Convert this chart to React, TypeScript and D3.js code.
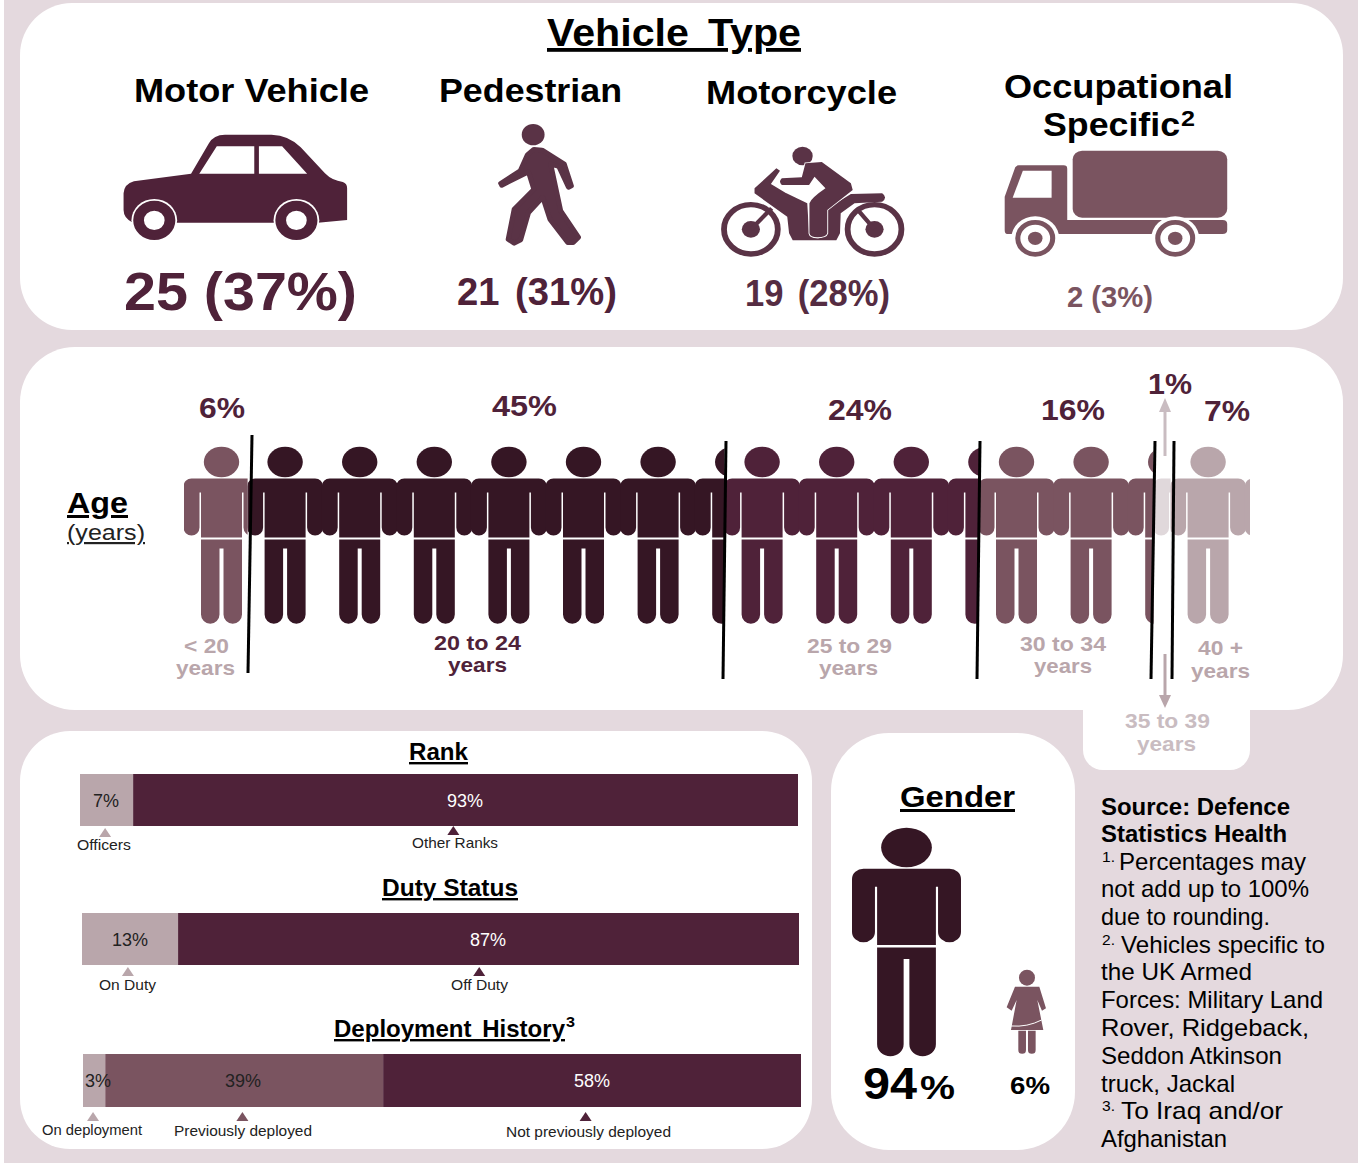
import React from 'react';
import * as d3 from 'd3';

const width = 1358;
const height = 1163;

const bg = '#e4d9de';
const dark = '#351624';
const plum = '#4f2239';
const mid = '#7a5460';
const light = '#b9a6ab';
const pale = '#e0d8db';
const font = '"Liberation Sans", Arial, sans-serif';

// data
const vehicleTypes = ['Motor Vehicle', 'Pedestrian', 'Motorcycle', 'Occupational Specific'];
const vehicleCounts = [25, 21, 19, 2];
const vehiclePcts = [37, 31, 28, 3];

const ageGroups = ['< 20', '20 to 24', '25 to 29', '30 to 34', '35 to 39', '40 +'];
const agePcts = [6, 45, 24, 16, 1, 7];

// bar lengths, labels show them rounded
const rankLabels = ['Officers', 'Other Ranks'];
const rankValues = [7.4, 92.6];
const rankMarkers = [3.5, 52];

const dutyLabels = ['On Duty', 'Off Duty'];
const dutyValues = [13.4, 86.6];
const dutyMarkers = [6.4, 55.4];

const deployLabels = ['On deployment', 'Previously deployed', 'Not previously deployed'];
const deployValues = [3.1, 38.7, 58.2];
const deployMarkers = [1.4, 22.2, 70];

const genderValues = [94, 6];

const ageX = d3.scaleLinear().domain([0, 100]).range([184, 1244]);
const ageRight = 1250;
const ageColors = [mid, dark, plum, mid, pale, light];
const headOffset = 37.5;
const personStep = 74.6;

// cumulative age bands. The 1% band is too thin to read at its true width, so it gets a fixed one
const ageBands = (() => {
  let cum = 0;
  let x0 = ageX(0);
  return agePcts.map((p, i) => {
    cum += p;
    const start = x0;
    let end = ageX(cum);
    if (i === 3) end += 5;
    if (i === 4) end = start + 17;
    if (i === 5) end = ageRight;
    x0 = end;
    return { i, start, end, pct: p, color: ageColors[i] };
  });
})();

const T = ({ x, y, w, size, bold, fill = '#000', underline, ws, children }: any) => (
  <text
    x={x}
    y={y}
    fontSize={size}
    fontFamily={font}
    fontWeight={bold ? 700 : 400}
    fill={fill}
    textLength={w}
    lengthAdjust="spacingAndGlyphs"
    wordSpacing={ws}
    textDecoration={underline ? 'underline' : undefined}
  >
    {children}
  </text>
);

const upperBody =
  'M-38 8A8 8 0 0 1 -30 0H30A8 8 0 0 1 38 8V49A8 8 0 0 1 22 49V14H20.5V59H-20.5V14H-22V49A8 8 0 0 1 -38 49Z';
const legs = 'M-20.5 61H20.5V136A9 9 0 0 1 2 136V70H-2V136A9 9 0 0 1 -20.5 136Z';

const Person = ({ color }: any) => (
  <g fill={color}>
    <ellipse cx={0} cy={-16.5} rx={17.7} ry={15.3} />
    <path d={upperBody} />
    <path d={legs} />
  </g>
);

const Car = () => (
  <g transform="translate(100,60) scale(0.3571,0.3333)" fill={plum}>
    <path d="M66 400Q68 372 95 364L255 341L305 250Q318 224 350 224H480Q530 226 562 262L630 340Q650 362 680 366Q692 370 692 385V480L610 488H215L92 488Q66 475 66 450Z" />
    <path d="M278 341L327 259H432V341ZM445 341V259H510L580 341Z" fill="#fff" />
    {[152, 550].map(cx => (
      <g key={cx}>
        <circle cx={cx} cy={481} r={64} fill="#fff" />
        <circle cx={cx} cy={481} r={44} fill="none" stroke={plum} strokeWidth={30} />
      </g>
    ))}
  </g>
);

const Walker = () => (
  <g transform="translate(100,60) scale(0.3571,0.3333)" fill="#5a3346">
    <circle cx={1213} cy={224} r={32} />
    <path
      strokeLinejoin="round"
      stroke="#5a3346"
      strokeWidth={14}
      d="M1215 268L1238 270L1300 312L1320 378L1312 382L1285 320L1262 312L1290 452L1340 532L1325 548L1310 548L1260 478L1240 412L1200 458L1178 540L1160 550L1143 538L1160 447L1215 388L1200 336L1125 376L1122 370L1177 332L1197 284Z"
    />
  </g>
);

const Motorbike = () => (
  <g transform="translate(680,60) scale(0.3636,0.3333)" fill="#5a3346">
    <circle cx={337} cy={288} r={28} />
    {[195, 535].map(cx => (
      <g key={cx}>
        <circle cx={cx} cy={508} r={74} fill="none" stroke="#5a3346" strokeWidth={16} />
        <circle cx={cx} cy={508} r={25} />
      </g>
    ))}
    <path d="M195 508L252 445M535 508L485 445" stroke="#5a3346" strokeWidth={12} />
    <path d="M205 385L265 325L275 332L250 372L290 398L350 430L355 520Q360 535 380 535Q395 535 398 520L398 450L470 402L556 400Q572 412 556 425L480 430L442 460L440 520L430 541L310 541L300 520L295 470L205 400Z" />
    <path
      stroke="#fff"
      strokeWidth={5}
      d="M345 310L390 306L470 370L475 390L405 450V520Q402 532 378 532Q358 532 356 520V430Q360 415 400 385L370 350L355 375L280 375Q270 365 280 355L335 352Z"
    />
    <path d="M345 310L390 306L470 370L475 390L405 450V520Q402 532 378 532Q358 532 356 520V430Q360 415 400 385L370 350L355 375L280 375Q270 365 280 355L335 352Z" />
    <path d="M290 395L352 388" stroke="#fff" strokeWidth={5} />
  </g>
);

const Truck = () => (
  <g transform="translate(680,60) scale(0.3636,0.3333)" fill={mid}>
    <rect x={1080} y={272} width={425} height={201} rx={26} />
    <path d="M893 410L922 322Q925 316 932 316H1055Q1065 316 1065 326V480H1492Q1505 480 1505 492V510Q1505 522 1492 522H900Q893 522 893 510Z" />
    <path d="M915 413L943 332H1022V413Z" fill="#fff" />
    {[977, 1362].map(cx => (
      <g key={cx}>
        <circle cx={cx} cy={535} r={66} fill="#fff" />
        <circle cx={cx} cy={535} r={48} fill="none" stroke={mid} strokeWidth={14} />
        <circle cx={cx} cy={535} r={20} />
      </g>
    ))}
  </g>
);

const Woman = () => (
  <g transform="translate(830,770) scale(0.3333)" fill={mid}>
    <circle cx={591} cy={623} r={24} />
    <path d="M555 650H628L648 715L636 722L622 690L640 780H543L560 690L545 722L530 712Z" />
    <path d="M543 768Q592 772 635 750" stroke="#fff" strokeWidth={3} fill="none" />
    <path d="M565 782H588V840A11 11 0 0 1 565 840ZM594 782H617V840A11 11 0 0 1 594 840Z" />
  </g>
);

const StackBar = ({ x0, x1, y, h, values, colors, markers, labelColors, labelX, baseline, markerY }: any) => {
  const x = d3.scaleLinear().domain([0, 100]).range([x0, x1]);
  let cum = 0;
  const segs = values.map((v: number) => {
    const s = cum;
    cum += v;
    return [s, cum];
  });
  return (
    <g>
      {segs.map((s: number[], i: number) => (
        <rect key={i} x={x(s[0])} y={y} width={x(s[1]) - x(s[0])} height={h} fill={colors[i]} />
      ))}
      {values.map((v: number, i: number) => (
        <text
          key={i}
          x={labelX[i]}
          y={baseline}
          fontSize={18}
          fontFamily={font}
          textAnchor="middle"
          fill={labelColors[i]}
        >
          {Math.round(v)}%
        </text>
      ))}
      {markers.map((m: number, i: number) => (
        <path
          key={i}
          d={`M${x(m) - 6} ${markerY[i] + 9}L${x(m)} ${markerY[i]}L${x(m) + 6} ${markerY[i] + 9}Z`}
          fill={colors[i]}
        />
      ))}
    </g>
  );
};

const App = () => {
  const lineTops = [252, 726, 980, 1155, 1174];
  const lineBots = [248, 723, 977, 1151, 1172];
  return (
    <svg width={width} height={height} style={{ position: 'absolute', left: 0, top: 0 }}>
      <defs>
        {ageBands.map(b => (
          <clipPath id={`band${b.i}`} key={b.i}>
            <rect x={b.start} y={430} width={b.end - b.start} height={210} />
          </clipPath>
        ))}
      </defs>
      <rect x={4} y={0} width={width - 4} height={height} fill={bg} />

      {/* panels */}
      <rect x={20} y={3} width={1323} height={327} rx={52} fill="#fff" />
      <rect x={20} y={347} width={1323} height={363} rx={55} fill="#fff" />
      <path d="M1083 700H1250V750A20 20 0 0 1 1230 770H1103A20 20 0 0 1 1083 750Z" fill="#fff" />
      <rect x={20} y={731} width={792} height={418} rx={50} fill="#fff" />
      <rect x={831} y={733} width={244} height={417} rx={58} fill="#fff" />

      {/* vehicle type */}
      <T x={547} y={46} w={254} size={38} bold underline ws={7}>Vehicle Type</T>
      <T x={134} y={102} w={235} size={34} bold>{vehicleTypes[0]}</T>
      <T x={439} y={102} w={183} size={34} bold>{vehicleTypes[1]}</T>
      <T x={706} y={104} w={191} size={34} bold>{vehicleTypes[2]}</T>
      <T x={1004} y={98} w={229} size={34} bold>Occupational</T>
      <T x={1043} y={136} w={137} size={34} bold>Specific</T>
      <T x={1181} y={126} w={14} size={22} bold>2</T>
      <Car />
      <Walker />
      <Motorbike />
      <Truck />
      <T x={124} y={310} w={233} size={54} bold fill={plum}>{`${vehicleCounts[0]} (${vehiclePcts[0]}%)`}</T>
      <T x={457} y={305} w={160} size={38} bold fill={plum} ws={5}>{`${vehicleCounts[1]} (${vehiclePcts[1]}%)`}</T>
      <T x={745} y={306} w={145} size={36} bold fill="#552c42" ws={5}>{`${vehicleCounts[2]} (${vehiclePcts[2]}%)`}</T>
      <T x={1067} y={307} w={86} size={30} bold fill={mid}>{`${vehicleCounts[3]} (${vehiclePcts[3]}%)`}</T>

      {/* age pictogram */}
      <T x={67} y={513} w={61} size={30} bold underline>Age</T>
      <T x={67} y={540} w={78} size={22} fill="#222" underline>(years)</T>
      {ageBands.map(b => {
        const n = Math.ceil((b.end - b.start) / personStep) + 1;
        return (
          <g key={b.i} clipPath={`url(#band${b.i})`}>
            {d3.range(n).map(k => (
              <g key={k} transform={`translate(${b.start + headOffset + k * personStep},478.5)`}>
                <Person color={b.color} />
              </g>
            ))}
          </g>
        );
      })}
      {lineTops.map((t, i) => (
        <line key={i} x1={t} y1={i === 0 ? 435 : 441} x2={lineBots[i]} y2={i === 0 ? 673 : 679} stroke="#000" strokeWidth={3} />
      ))}
      <path d="M1165 456V408" stroke="#c9bcc1" strokeWidth={3} />
      <path d="M1159 412L1165 398L1171 412Z" fill="#c9bcc1" />
      <path d="M1165 654V698" stroke="#b9a6ab" strokeWidth={3} />
      <path d="M1159 695L1165 708L1171 695Z" fill="#b9a6ab" />

      <T x={199} y={418} w={46} size={30} bold fill={plum}>{agePcts[0]}%</T>
      <T x={492} y={416} w={65} size={30} bold fill={plum}>{agePcts[1]}%</T>
      <T x={828} y={420} w={64} size={30} bold fill={plum}>{agePcts[2]}%</T>
      <T x={1041} y={420} w={64} size={30} bold fill={plum}>{agePcts[3]}%</T>
      <T x={1148} y={394} w={44} size={30} bold fill={plum}>{agePcts[4]}%</T>
      <T x={1204} y={421} w={46} size={30} bold fill={plum}>{agePcts[5]}%</T>

      <T x={184} y={653} w={45} size={21} bold fill={light}>{ageGroups[0]}</T>
      <T x={176} y={675} w={59} size={21} bold fill={light}>years</T>
      <T x={434} y={650} w={87} size={21} bold fill={plum}>{ageGroups[1]}</T>
      <T x={448} y={672} w={59} size={21} bold fill={plum}>years</T>
      <T x={807} y={653} w={85} size={21} bold fill={light}>{ageGroups[2]}</T>
      <T x={819} y={675} w={59} size={21} bold fill={light}>years</T>
      <T x={1020} y={651} w={86} size={21} bold fill={light}>{ageGroups[3]}</T>
      <T x={1034} y={673} w={58} size={21} bold fill={light}>years</T>
      <T x={1198} y={655} w={45} size={21} bold fill={light}>{ageGroups[5]}</T>
      <T x={1191} y={678} w={59} size={21} bold fill={light}>years</T>
      <T x={1125} y={728} w={85} size={21} bold fill="#c9bcc1">{ageGroups[4]}</T>
      <T x={1137} y={751} w={59} size={21} bold fill="#c9bcc1">years</T>

      {/* rank, duty status, deployment */}
      <T x={409} y={760} w={59} size={24} bold underline>Rank</T>
      <StackBar
        x0={80} x1={798} y={774} h={52}
        values={rankValues} colors={[light, plum]} markers={rankMarkers}
        labelColors={['#222', '#fff']} labelX={[106, 465]} baseline={807} markerY={[828, 826]}
      />
      <T x={77} y={850} w={54} size={15} fill="#222">{rankLabels[0]}</T>
      <T x={412} y={848} w={86} size={15} fill="#222">{rankLabels[1]}</T>

      <T x={382} y={896} w={136} size={24} bold underline>Duty Status</T>
      <StackBar
        x0={82} x1={799} y={913} h={52}
        values={dutyValues} colors={[light, plum]} markers={dutyMarkers}
        labelColors={['#222', '#fff']} labelX={[130, 488]} baseline={946} markerY={[967, 967]}
      />
      <T x={99} y={990} w={57} size={15} fill="#222">{dutyLabels[0]}</T>
      <T x={451} y={990} w={57} size={15} fill="#222">{dutyLabels[1]}</T>

      <T x={334} y={1037} w={231} size={24} bold underline ws={4}>Deployment History</T>
      <T x={566} y={1027} w={9} size={15} bold>3</T>
      <StackBar
        x0={83} x1={801} y={1054} h={53}
        values={deployValues} colors={[light, mid, plum]} markers={deployMarkers}
        labelColors={['#222', '#222', '#fff']} labelX={[98, 243, 592]} baseline={1087} markerY={[1112, 1112, 1112]}
      />
      <T x={42} y={1135} w={100} size={15} fill="#222">{deployLabels[0]}</T>
      <T x={174} y={1136} w={138} size={15} fill="#222">{deployLabels[1]}</T>
      <T x={506} y={1137} w={165} size={15} fill="#222">{deployLabels[2]}</T>

      {/* gender */}
      <T x={900} y={807} w={115} size={30} bold underline>Gender</T>
      <g transform="translate(906.5,868.8) scale(1.434,1.29)">
        <Person color={dark} />
      </g>
      <Woman />
      <T x={863} y={1099} w={54} size={44} bold>{genderValues[0]}</T>
      <T x={920} y={1099} w={35} size={34} bold>%</T>
      <T x={1010} y={1094} w={40} size={24} bold>{genderValues[1]}%</T>

      {/* source notes */}
      <T x={1101} y={815} w={189} size={24} bold>Source: Defence</T>
      <T x={1101} y={842} w={186} size={24} bold>Statistics Health</T>
      <T x={1102} y={862} w={13} size={15}>1.</T>
      <T x={1119} y={870} w={187} size={24}>Percentages may</T>
      <T x={1101} y={897} w={208} size={24}>not add up to 100%</T>
      <T x={1101} y={925} w={169} size={24}>due to rounding.</T>
      <T x={1102} y={945} w={13} size={15}>2.</T>
      <T x={1121} y={953} w={204} size={24}>Vehicles specific to</T>
      <T x={1101} y={980} w={151} size={24}>the UK Armed</T>
      <T x={1101} y={1008} w={222} size={24}>Forces: Military Land</T>
      <T x={1101} y={1036} w={208} size={24}>Rover, Ridgeback,</T>
      <T x={1101} y={1064} w={181} size={24}>Seddon Atkinson</T>
      <T x={1101} y={1092} w={134} size={24}>truck, Jackal</T>
      <T x={1102} y={1111} w={13} size={15}>3.</T>
      <T x={1121} y={1119} w={162} size={24}>To Iraq and/or</T>
      <T x={1101} y={1147} w={126} size={24}>Afghanistan</T>
    </svg>
  );
};

export default App;
